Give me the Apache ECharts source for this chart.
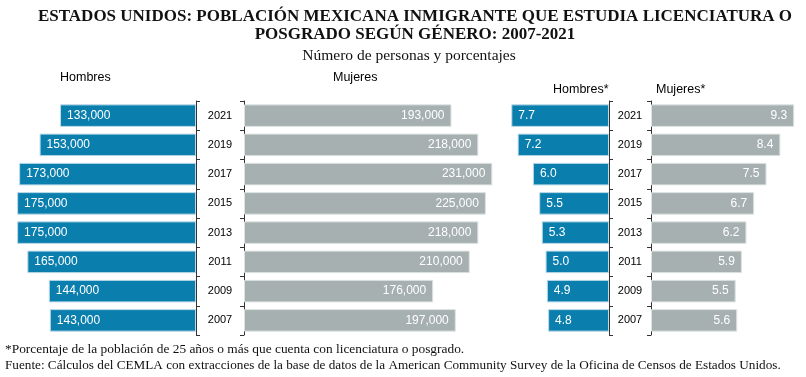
<!DOCTYPE html>
<html>
<head>
<meta charset="utf-8">
<script src="https://cdn.jsdelivr.net/npm/echarts@6/dist/echarts.min.js"></script>
<style>
  html, body { margin: 0; padding: 0; background: #fff; }
  #chart { width: 806px; height: 377px; }
</style>
</head>
<body>
<div id="chart"></div>
<script>
// datos (2021 arriba)
const years = ['2021', '2019', '2017', '2015', '2013', '2011', '2009', '2007'];
const hombres = [133000, 153000, 173000, 175000, 175000, 165000, 144000, 143000];
const mujeres = [193000, 218000, 231000, 225000, 218000, 210000, 176000, 197000];
const hombresPct = [7.7, 7.2, 6.0, 5.5, 5.3, 5.0, 4.9, 4.8];
const mujeresPct = [9.3, 8.4, 7.5, 6.7, 6.2, 5.9, 5.5, 5.6];

const BLUE = '#0a7ead';
const BLUE_EDGE = '#bcdbe8';
const GRAY = '#a7b0b0';
const GRAY_EDGE = '#dde3e3';
const serif = '"Liberation Serif", "DejaVu Serif", serif';
const sans = '"Liberation Sans", Arial, sans-serif';

const chart = echarts.init(document.getElementById('chart'));

const fmtMiles = (p) => p.value.toLocaleString('en-US');
const fmtPct = (p) => p.value.toFixed(1);

function yAx(grid, pos, showLabel, margin) {
  return {
    type: 'category', gridIndex: grid, data: years, inverse: true, position: pos,
    axisLine: { show: true, lineStyle: { color: '#333', width: 1 } },
    axisTick: { show: true, length: 4, lineStyle: { color: '#333' } },
    axisLabel: {
      show: showLabel, align: 'center', margin: margin,
      color: '#000', fontFamily: sans, fontSize: 11
    }
  };
}

function xAx(grid, max, inverse) {
  return {
    type: 'value', gridIndex: grid, min: 0, max: max, inverse: inverse,
    show: false
  };
}

function barSeries(idx, data, color, edge, pos, fmt) {
  return {
    type: 'bar', xAxisIndex: idx, yAxisIndex: idx, data: data,
    barCategoryGap: '23%',
    itemStyle: { color: color, borderColor: edge, borderWidth: 1 },
    label: {
      show: true, position: pos, distance: 7, formatter: fmt,
      color: '#fff', fontFamily: sans, fontSize: 12
    },
    silent: true, animation: false
  };
}

const option = {
  backgroundColor: '#fff',
  animation: false,
  title: [
    {
      text: 'ESTADOS UNIDOS: POBLACIÓN MEXICANA INMIGRANTE QUE ESTUDIA LICENCIATURA O\nPOSGRADO SEGÚN GÉNERO: 2007-2021',
      left: 410, top: 3, textAlign: 'center',
      textStyle: { fontFamily: serif, fontWeight: 'bold', fontSize: 17, lineHeight: 18, color: '#111' }
    },
    {
      text: 'Número de personas y porcentajes',
      left: 404, top: 43, textAlign: 'center',
      textStyle: { fontFamily: serif, fontWeight: 'normal', fontSize: 15.5, color: '#111' }
    }
  ],
  graphic: [
    { type: 'text', left: 60, top: 71, style: { text: 'Hombres', font: '12.5px ' + sans, fill: '#000' } },
    { type: 'text', left: 333, top: 71, style: { text: 'Mujeres', font: '12.5px ' + sans, fill: '#000' } },
    { type: 'text', left: 553, top: 83, style: { text: 'Hombres*', font: '12.5px ' + sans, fill: '#000' } },
    { type: 'text', left: 656, top: 83, style: { text: 'Mujeres*', font: '12.5px ' + sans, fill: '#000' } },
    { type: 'text', left: 5, top: 343, style: { text: '*Porcentaje de la población de 25 años o más que cuenta con licenciatura o posgrado.', font: '13.4px ' + serif, fill: '#111' } },
    { type: 'text', left: 5, top: 359, style: { text: 'Fuente: Cálculos del CEMLA con extracciones de la base de datos de la American Community Survey de la Oficina de Censos de Estados Unidos.', font: '13.2px ' + serif, fill: '#111' } }
  ],
  grid: [
    { left: 12, width: 184, top: 101, height: 234 },
    { left: 244, width: 258, top: 101, height: 234 },
    { left: 507.5, width: 101.5, top: 101, height: 234 },
    { left: 651, width: 154, top: 101, height: 234 }
  ],
  xAxis: [
    xAx(0, 180000, true),
    xAx(1, 240000, false),
    xAx(2, 8, true),
    xAx(3, 10, false)
  ],
  yAxis: [
    yAx(0, 'right', false, 8),
    yAx(1, 'left', true, 24),
    yAx(2, 'right', false, 8),
    yAx(3, 'left', true, 21)
  ],
  series: [
    barSeries(0, hombres, BLUE, BLUE_EDGE, 'insideLeft', fmtMiles),
    barSeries(1, mujeres, GRAY, GRAY_EDGE, 'insideRight', fmtMiles),
    barSeries(2, hombresPct, BLUE, BLUE_EDGE, 'insideLeft', fmtPct),
    barSeries(3, mujeresPct, GRAY, GRAY_EDGE, 'insideRight', fmtPct)
  ]
};

chart.setOption(option);
</script>
</body>
</html>
